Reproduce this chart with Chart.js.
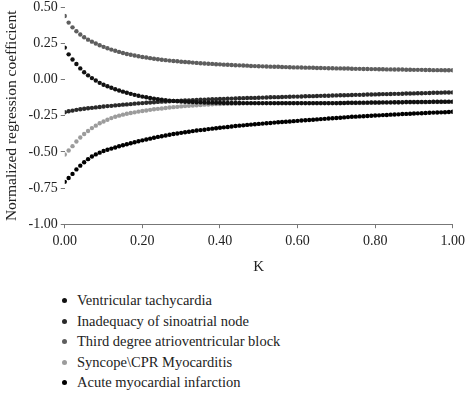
<!DOCTYPE html>
<html>
<head>
<meta charset="utf-8">
<script src="https://cdn.jsdelivr.net/npm/chart.js@4.4.1/dist/chart.umd.min.js"></script>
<style>
  html, body { margin: 0; padding: 0; background: #fff; }
  body { width: 470px; height: 393px; position: relative; overflow: hidden; }
  #wrap { position: absolute; left: 0; top: -4px; width: 470px; height: 284px; }
  #legend { position: absolute; left: 0; top: 290px; margin: 0; padding: 0; list-style: none;
            font-family: 'Liberation Serif', 'DejaVu Serif', serif; font-size: 14.5px; color: #222; }
  #legend li { position: relative; height: 20.5px; line-height: 20.5px; padding-left: 77px; white-space: nowrap; }
  #legend li span { position: absolute; left: 62px; top: 8px; width: 5px; height: 5px; border-radius: 50%; }
</style>
</head>
<body>
<div id="wrap"><canvas id="chart"></canvas></div>
<ul id="legend"></ul>
<script>
// K values (ridge parameter)
const kValues = [
  0.00,0.01,0.02,0.03,0.04,0.05,0.06,0.07,0.08,0.09,
  0.10,0.11,0.12,0.13,0.14,0.15,0.16,0.17,0.18,0.19,
  0.20,0.21,0.22,0.23,0.24,0.25,0.26,0.27,0.28,0.29,
  0.30,0.31,0.32,0.33,0.34,0.35,0.36,0.37,0.38,0.39,
  0.40,0.41,0.42,0.43,0.44,0.45,0.46,0.47,0.48,0.49,
  0.50,0.51,0.52,0.53,0.54,0.55,0.56,0.57,0.58,0.59,
  0.60,0.61,0.62,0.63,0.64,0.65,0.66,0.67,0.68,0.69,
  0.70,0.71,0.72,0.73,0.74,0.75,0.76,0.77,0.78,0.79,
  0.80,0.81,0.82,0.83,0.84,0.85,0.86,0.87,0.88,0.89,
  0.90,0.91,0.92,0.93,0.94,0.95,0.96,0.97,0.98,0.99,1.00
];

const seriesNames = [
  'Ventricular tachycardia',
  'Inadequacy of sinoatrial node',
  'Third degree atrioventricular block',
  'Syncope\\CPR Myocarditis',
  'Acute myocardial infarction'
];

const ventricular = [
  0.222,0.175,0.140,0.108,0.078,0.051,0.030,0.011,-0.006,-0.022,
  -0.035,-0.046,-0.056,-0.066,-0.075,-0.083,-0.091,-0.098,-0.105,-0.111,
  -0.117,-0.122,-0.127,-0.131,-0.135,-0.139,-0.142,-0.145,-0.147,-0.149,
  -0.151,-0.153,-0.154,-0.155,-0.156,-0.157,-0.158,-0.159,-0.159,-0.160,
  -0.160,-0.161,-0.161,-0.161,-0.161,-0.161,-0.162,-0.162,-0.162,-0.162,
  -0.162,-0.162,-0.162,-0.162,-0.162,-0.162,-0.162,-0.162,-0.162,-0.162,
  -0.162,-0.162,-0.162,-0.162,-0.162,-0.162,-0.162,-0.162,-0.162,-0.162,
  -0.162,-0.161,-0.161,-0.160,-0.160,-0.160,-0.159,-0.159,-0.159,-0.158,
  -0.158,-0.158,-0.157,-0.157,-0.157,-0.156,-0.156,-0.156,-0.155,-0.155,
  -0.155,-0.155,-0.154,-0.154,-0.154,-0.153,-0.153,-0.153,-0.153,-0.152,-0.152
];

const inadequacy = [
  -0.225,-0.219,-0.214,-0.209,-0.205,-0.201,-0.198,-0.195,-0.192,-0.189,
  -0.186,-0.183,-0.181,-0.178,-0.176,-0.173,-0.171,-0.169,-0.166,-0.164,
  -0.162,-0.160,-0.158,-0.156,-0.154,-0.152,-0.151,-0.149,-0.148,-0.147,
  -0.145,-0.144,-0.143,-0.142,-0.141,-0.139,-0.138,-0.137,-0.136,-0.135,
  -0.134,-0.133,-0.132,-0.131,-0.130,-0.129,-0.128,-0.127,-0.126,-0.126,
  -0.125,-0.124,-0.123,-0.122,-0.121,-0.121,-0.120,-0.119,-0.118,-0.117,
  -0.117,-0.116,-0.115,-0.114,-0.114,-0.113,-0.112,-0.111,-0.111,-0.110,
  -0.109,-0.108,-0.108,-0.107,-0.106,-0.105,-0.105,-0.104,-0.103,-0.103,
  -0.102,-0.101,-0.100,-0.100,-0.099,-0.098,-0.098,-0.097,-0.096,-0.096,
  -0.095,-0.094,-0.094,-0.093,-0.092,-0.091,-0.091,-0.090,-0.089,-0.089,-0.088
];

const thirdDegree = [
  0.440,0.395,0.362,0.335,0.312,0.293,0.277,0.263,0.250,0.238,
  0.227,0.217,0.208,0.200,0.192,0.185,0.178,0.172,0.167,0.162,
  0.157,0.153,0.149,0.145,0.141,0.138,0.135,0.132,0.129,0.127,
  0.124,0.122,0.120,0.118,0.116,0.114,0.112,0.110,0.109,0.107,
  0.106,0.104,0.103,0.101,0.100,0.099,0.098,0.097,0.095,0.094,
  0.093,0.092,0.091,0.090,0.089,0.089,0.088,0.087,0.086,0.085,
  0.085,0.084,0.083,0.083,0.082,0.081,0.081,0.080,0.079,0.079,
  0.078,0.078,0.077,0.077,0.076,0.075,0.075,0.074,0.074,0.073,
  0.073,0.072,0.072,0.071,0.071,0.070,0.070,0.070,0.069,0.069,
  0.068,0.068,0.068,0.067,0.067,0.066,0.066,0.066,0.065,0.065,0.065
];

const syncope = [
  -0.518,-0.490,-0.460,-0.428,-0.400,-0.376,-0.355,-0.335,-0.318,-0.302,
  -0.289,-0.277,-0.266,-0.257,-0.249,-0.242,-0.236,-0.231,-0.226,-0.221,
  -0.217,-0.213,-0.209,-0.205,-0.202,-0.199,-0.196,-0.193,-0.190,-0.188,
  -0.185,-0.183,-0.181,-0.179,-0.177,-0.175,-0.173,-0.172,-0.170,-0.169,
  -0.168,-0.167,-0.166,-0.166,-0.165,-0.165,-0.164,-0.164,-0.164,-0.164,
  -0.164,-0.164,-0.164,-0.164,-0.164,-0.164,-0.163,-0.163,-0.163,-0.163,
  -0.163,-0.163,-0.163,-0.163,-0.163,-0.163,-0.163,-0.163,-0.163,-0.163,
  -0.163,-0.163,-0.162,-0.162,-0.162,-0.161,-0.161,-0.161,-0.160,-0.160,
  -0.160,-0.159,-0.159,-0.159,-0.158,-0.158,-0.158,-0.157,-0.157,-0.157,
  -0.156,-0.156,-0.156,-0.156,-0.155,-0.155,-0.155,-0.155,-0.154,-0.154,-0.154
];

const acuteMI = [
  -0.707,-0.680,-0.652,-0.621,-0.595,-0.571,-0.550,-0.532,-0.517,-0.505,
  -0.494,-0.485,-0.477,-0.469,-0.461,-0.454,-0.447,-0.440,-0.433,-0.426,
  -0.420,-0.414,-0.408,-0.402,-0.396,-0.391,-0.386,-0.381,-0.376,-0.372,
  -0.368,-0.364,-0.360,-0.356,-0.352,-0.349,-0.346,-0.342,-0.339,-0.336,
  -0.333,-0.330,-0.327,-0.324,-0.321,-0.318,-0.316,-0.313,-0.311,-0.308,
  -0.306,-0.304,-0.302,-0.300,-0.297,-0.295,-0.293,-0.291,-0.289,-0.287,
  -0.285,-0.283,-0.281,-0.279,-0.277,-0.275,-0.273,-0.271,-0.269,-0.267,
  -0.265,-0.263,-0.261,-0.259,-0.257,-0.256,-0.254,-0.253,-0.251,-0.250,
  -0.248,-0.247,-0.245,-0.244,-0.242,-0.241,-0.240,-0.238,-0.237,-0.236,
  -0.234,-0.233,-0.232,-0.231,-0.229,-0.228,-0.227,-0.226,-0.225,-0.224,-0.222
];

const yTicks = [-1.00, -0.75, -0.50, -0.25, 0.00, 0.25, 0.50];
const xTicks = [0.00, 0.20, 0.40, 0.60, 0.80, 1.00];

const seriesValues = [ventricular, inadequacy, thirdDegree, syncope, acuteMI];
const seriesColors = ['#111111', '#2a2a2a', '#5e5e5e', '#9c9c9c', '#000000'];

const serif = "'Liberation Serif', 'DejaVu Serif', serif";

const datasets = seriesValues.map((vals, i) => ({
    label: seriesNames[i],
    data: vals.map((v, j) => ({ x: kValues[j], y: v })),
    showLine: false,
    pointRadius: 2.2,
    pointBorderWidth: 0,
    pointBackgroundColor: seriesColors[i],
    backgroundColor: seriesColors[i],
    borderColor: seriesColors[i]
}));

const chart = new Chart(document.getElementById('chart').getContext('2d'), {
    type: 'scatter',
    data: { datasets },
    options: {
        responsive: true,
        maintainAspectRatio: false,
        animation: false,
        layout: { padding: 0 },
        plugins: {
            legend: { display: false },
            tooltip: { enabled: false }
        },
        scales: {
            x: {
                type: 'linear',
                min: 0,
                max: 1,
                afterBuildTicks: axis => { axis.ticks = xTicks.map(v => ({ value: v })); },
                ticks: {
                    padding: 5,
                    color: '#222',
                    font: { family: serif, size: 14 },
                    callback: v => Number(v).toFixed(2)
                },
                grid: { drawOnChartArea: false, tickLength: 4, color: '#777' },
                border: { display: true, color: '#777', width: 1 },
                title: {
                    display: true,
                    text: 'K',
                    color: '#222',
                    font: { family: serif, size: 15 },
                    padding: { top: 3, bottom: 4 }
                }
            },
            y: {
                min: -1,
                max: 0.5,
                afterBuildTicks: axis => { axis.ticks = yTicks.map(v => ({ value: v })); },
                ticks: {
                    padding: 3,
                    color: '#222',
                    font: { family: serif, size: 14 },
                    callback: v => Number(v).toFixed(2)
                },
                grid: { drawOnChartArea: false, tickLength: 4, color: '#777' },
                border: { display: false },
                title: {
                    display: true,
                    text: 'Normalized regression coefficient',
                    color: '#222',
                    font: { family: serif, size: 15.5 },
                    padding: { top: 3, bottom: 4 }
                }
            }
        }
    }
});

// legend below the chart, one entry per row
const legendEl = document.getElementById('legend');
chart.data.datasets.forEach(ds => {
    const li = document.createElement('li');
    const dot = document.createElement('span');
    dot.style.background = ds.pointBackgroundColor;
    li.appendChild(dot);
    li.appendChild(document.createTextNode(ds.label));
    legendEl.appendChild(li);
});
</script>
</body>
</html>
